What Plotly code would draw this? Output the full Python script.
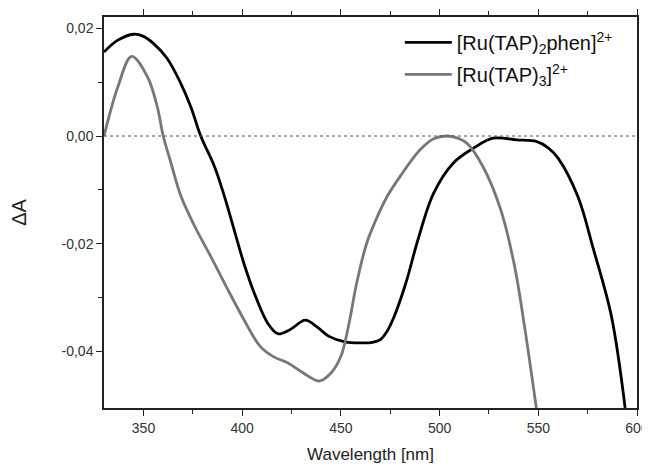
import plotly.graph_objects as go

# Data
wl_phen = [330, 337, 345, 350, 355, 362, 369, 374, 379, 386, 391, 396, 401, 407, 413, 418, 424, 432, 438, 444,
           452, 460, 466, 470, 473, 477, 483, 489, 497, 507, 517, 527, 539, 549, 555, 560, 570, 578, 587, 594]
dA_phen = [0.0156, 0.0178, 0.0189, 0.0185, 0.0172, 0.0144, 0.0097, 0.0054, 0.0, -0.0057, -0.0112, -0.0175,
           -0.0238, -0.0300, -0.0348, -0.0367, -0.0360, -0.0342, -0.0355, -0.0372, -0.0382, -0.0384,
           -0.0383, -0.0378, -0.0365, -0.0335, -0.0272, -0.0193, -0.0106, -0.0050, -0.0023, -0.0004,
           -0.0007, -0.0010, -0.0022, -0.0041, -0.0112, -0.0211, -0.0334, -0.0505]

wl_tap3 = [330, 337, 344, 352, 357, 360, 364, 369, 376, 384, 392, 400, 409, 416, 423, 431, 439, 445,
           450, 454, 458, 463, 467, 473, 480, 490, 497, 504, 510, 514, 522, 531, 538, 543, 549]
dA_tap3 = [0.0, 0.0091, 0.0148, 0.0110, 0.0054, 0.0, -0.0051, -0.0112, -0.0168, -0.0223, -0.0280,
           -0.0335, -0.0390, -0.0410, -0.0421, -0.0440, -0.0455, -0.0440, -0.0409, -0.0350, -0.0273,
           -0.0200, -0.0162, -0.0115, -0.0075, -0.0026, -0.0005, 0.0, -0.0005, -0.0014, -0.0057,
           -0.0137, -0.0242, -0.0353, -0.0505]

y_tickvals = [0.02, 0.0, -0.02, -0.04]
y_ticktext = ["0,02", "0,00", "-0,02", "-0,04"]
x_tickvals = [350, 400, 450, 500, 550, 600]

font = "Liberation Sans, Arial, sans-serif"

fig = go.Figure()
fig.add_trace(go.Scatter(x=wl_phen, y=dA_phen, mode="lines", legendgroup="a",
                         line=dict(color="#000000", width=2.8, shape="spline", smoothing=1.0),
                         name="[Ru(TAP)<sub>2</sub>phen]<sup>2+</sup>"))
fig.add_trace(go.Scatter(x=wl_tap3, y=dA_tap3, mode="lines", legendgroup="b",
                         line=dict(color="#777777", width=2.8, shape="spline", smoothing=1.0),
                         name="[Ru(TAP)<sub>3</sub>]<sup>2+</sup>"))

fig.add_hline(y=0, line=dict(color="#555555", width=1, dash="dot"))

fig.update_layout(
    width=650, height=467,
    margin=dict(l=96, r=21, t=9, b=67),
    plot_bgcolor="white", paper_bgcolor="white",
    font=dict(family=font, color="#222222"),
    showlegend=True,
    legend=dict(x=0.555, y=0.985, xanchor="left", yanchor="top", itemwidth=47,
                bgcolor="rgba(0,0,0,0)", font=dict(size=20, color="#111111"),
                tracegroupgap=3),
    xaxis=dict(range=[330, 600], tickvals=x_tickvals, ticks="outside", ticklen=6,
               tickwidth=1.2, tickcolor="#222", showline=True, linecolor="#222", linewidth=1.5,
               mirror="allticks", showgrid=False, zeroline=False, automargin=False,
               tickfont=dict(size=14, color="#333"),
               minor=dict(tickvals=[375, 425, 475, 525, 575], ticks="outside", ticklen=4,
                          tickcolor="#222", tickwidth=1.2, showgrid=False),
               title=dict(text="Wavelength [nm]", font=dict(size=17, color="#222"), standoff=14)),
    yaxis=dict(range=[-0.0505, 0.0221], tickvals=y_tickvals, ticktext=y_ticktext, ticks="outside",
               ticklen=6, tickwidth=1.2, tickcolor="#222", showline=True, linecolor="#222",
               linewidth=1.5, mirror=True, showgrid=False, zeroline=False, automargin=False,
               tickfont=dict(size=14, color="#333"),
               minor=dict(tickvals=[0.01, -0.01, -0.03], ticks="outside", ticklen=4,
                          tickcolor="#222", tickwidth=1.2, showgrid=False),
               title=dict(text="ΔA", font=dict(size=20, color="#222"), standoff=32)),
)

fig.write_html("out.html")
